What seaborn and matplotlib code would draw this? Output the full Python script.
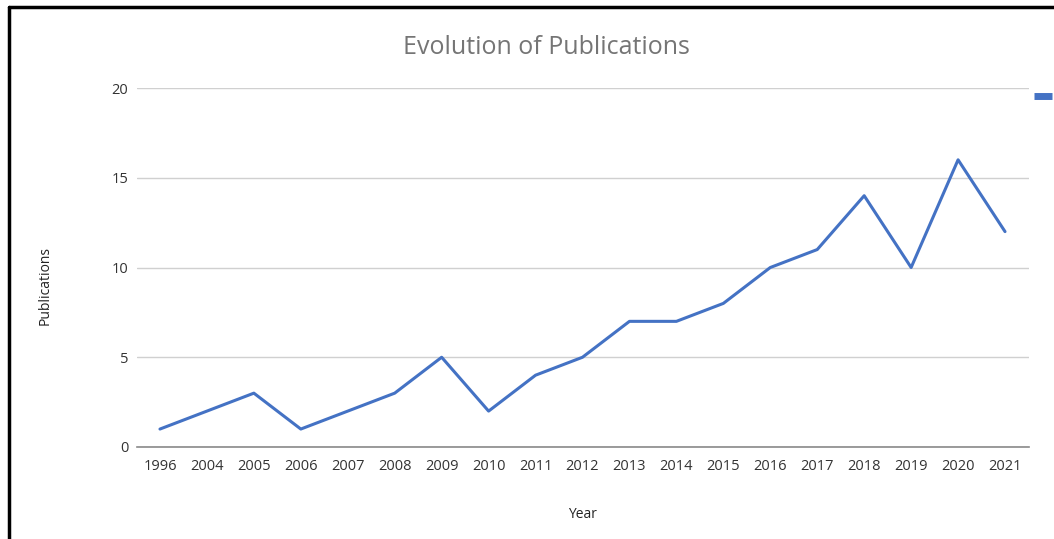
import matplotlib
matplotlib.use("Agg")
import matplotlib.pyplot as plt
import seaborn as sns
import pandas as pd
from matplotlib.lines import Line2D

years = ["1996", "2004", "2005", "2006", "2007", "2008", "2009", "2010", "2011", "2012",
         "2013", "2014", "2015", "2016", "2017", "2018", "2019", "2020", "2021"]
publications = [1, 2, 3, 1, 2, 3, 5, 2, 4, 5, 7, 7, 8, 10, 11, 14, 10, 16, 12]
y_ticks = [0, 5, 10, 15, 20]

df = pd.DataFrame({"Year": years, "Publications": publications})

sns.set_theme(style="white")
plt.rcParams['font.family'] = ['Open Sans', 'DejaVu Sans']

fig = plt.figure(figsize=(10.54, 5.39), dpi=100)
ax = fig.add_axes([136.5 / 1054, 1 - 447 / 539, (1028.5 - 136.5) / 1054, (447 - 88) / 539])

blue = "#4472C4"
sns.lineplot(data=df, x="Year", y="Publications", ax=ax, color=blue, linewidth=2.2,
             sort=False, label="Publications")

ax.set_xlim(-0.5, len(years) - 0.5)
ax.set_ylim(0, 20)
ax.set_yticks(y_ticks)
ax.set_yticklabels([str(t) for t in y_ticks])
ax.yaxis.grid(True, color="#d0d0d0", linewidth=1.0)
ax.xaxis.grid(False)
for s in ["top", "right", "left"]:
    ax.spines[s].set_visible(False)
ax.spines["bottom"].set_color("#8a8a8a")
ax.spines["bottom"].set_linewidth(1.2)
ax.spines["bottom"].set_zorder(3)
ax.tick_params(axis="both", length=0, labelsize=10.5, colors="#333333")
ax.tick_params(axis="y", pad=6)
ax.tick_params(axis="x", pad=8.5)
ax.set_xlabel("Year", fontsize=10, color="#222222", labelpad=24)
ax.set_ylabel("Publications", fontsize=10, color="#222222", labelpad=42)
ax.yaxis.label.set_y(0.45)

fig.text(546 / 1054, 1 - 47 / 539, "Evolution of Publications", ha="center", va="center",
         fontsize=18, color="#757575")

leg = ax.legend(loc="upper left", bbox_to_anchor=(1034 / 1054, 1 - 90 / 539),
                bbox_transform=fig.transFigure, frameon=False, handlelength=1.3,
                fontsize=10, borderaxespad=0, borderpad=0)
for h in leg.get_lines():
    h.set_linewidth(5)
    h.set_solid_capstyle("butt")
for t in leg.get_texts():
    t.set_visible(False)

fig.add_artist(Line2D([9 / 1054, 9 / 1054], [0, 1 - 7 / 539], transform=fig.transFigure,
                      color="black", linewidth=2.5))
fig.add_artist(Line2D([9 / 1054, 1], [1 - 7 / 539, 1 - 7 / 539], transform=fig.transFigure,
                      color="black", linewidth=2.5))

fig.savefig("out.png", dpi=100, facecolor="white")
